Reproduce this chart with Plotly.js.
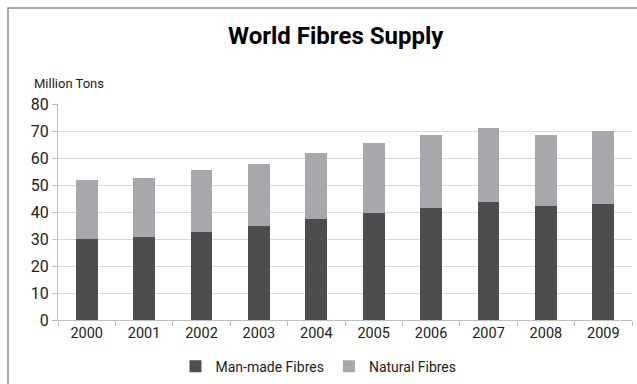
<!DOCTYPE html>
<html>
<head>
<meta charset="utf-8">
<script src="https://cdn.plot.ly/plotly-3.0.1.min.js"></script>
<style>
html,body{margin:0;padding:0;background:#fff;}
#chart{width:637px;height:384px;}
</style>
</head>
<body>
<div id="chart"></div>
<script>
const years = ["2000","2001","2002","2003","2004","2005","2006","2007","2008","2009"];
const manMade = [30.0, 30.7, 32.6, 34.8, 37.4, 39.6, 41.5, 43.7, 42.2, 42.9];
const natural = [21.7, 21.9, 23.0, 23.0, 24.5, 26.0, 27.0, 27.4, 26.3, 27.1];
const seriesNames = ["Man-made Fibres", "Natural Fibres"];
const yTicks = [0,10,20,30,40,50,60,70,80];

const FONT = 'Roboto, "Liberation Sans", Arial, sans-serif';

const traces = [
  {type:'bar', x: years, y: manMade, name: seriesNames[0], marker:{color:'#4d4d4f'}},
  {type:'bar', x: years, y: natural, name: seriesNames[1], marker:{color:'#a7a8ab'}}
];

const layout = {
  width: 637, height: 384,
  margin: {l:58, r:5, t:104, b:64},
  paper_bgcolor:'#fff', plot_bgcolor:'#fff',
  barmode:'stack', bargap:0.617,
  font:{family:FONT, size:14, color:'#222'},
  title:{text:'<b>World Fibres Supply</b>', font:{family:FONT, size:24, color:'#000'},
         x:0.527, xanchor:'center', y:0.906, yanchor:'middle', xref:'container', yref:'container'},
  xaxis:{type:'category', tickson:'boundaries', ticks:'outside', ticklen:5, tickcolor:'#bfbfbf',
         showline:true, linecolor:'#bfbfbf', linewidth:1, showgrid:false,
         tickfont:{family:FONT, size:14.5, color:'#222'}},
  yaxis:{range:[0,80], tickvals:yTicks, ticks:'outside', ticklen:5, tickcolor:'#bfbfbf',
         showline:true, linecolor:'#bfbfbf', linewidth:1, gridcolor:'#d9d9d9', gridwidth:1,
         zeroline:false, tickfont:{family:FONT, size:16, color:'#222'}},
  showlegend:true,
  legend:{orientation:'h', xref:'container', x:0.5, xanchor:'center', yref:'container', y:0.045, yanchor:'middle',
          font:{family:FONT, size:14, color:'#222'}, traceorder:'normal', itemclick:false},
  annotations:[
    {text:'Million Tons', xref:'paper', yref:'paper', x:-0.0453, y:1.097, xanchor:'left', yanchor:'middle',
     showarrow:false, font:{family:FONT, size:13, color:'#222'}}
  ],
  shapes:[
    {type:'rect', xref:'paper', yref:'paper', x0:-0.0871, x1:1.2, y0:-0.5, y1:1.444,
     line:{color:'#8c8c8c', width:1.5}, fillcolor:'rgba(0,0,0,0)', layer:'below'}
  ]
};

Plotly.newPlot('chart', traces, layout, {displayModeBar:false, staticPlot:true});
</script>
</body>
</html>
